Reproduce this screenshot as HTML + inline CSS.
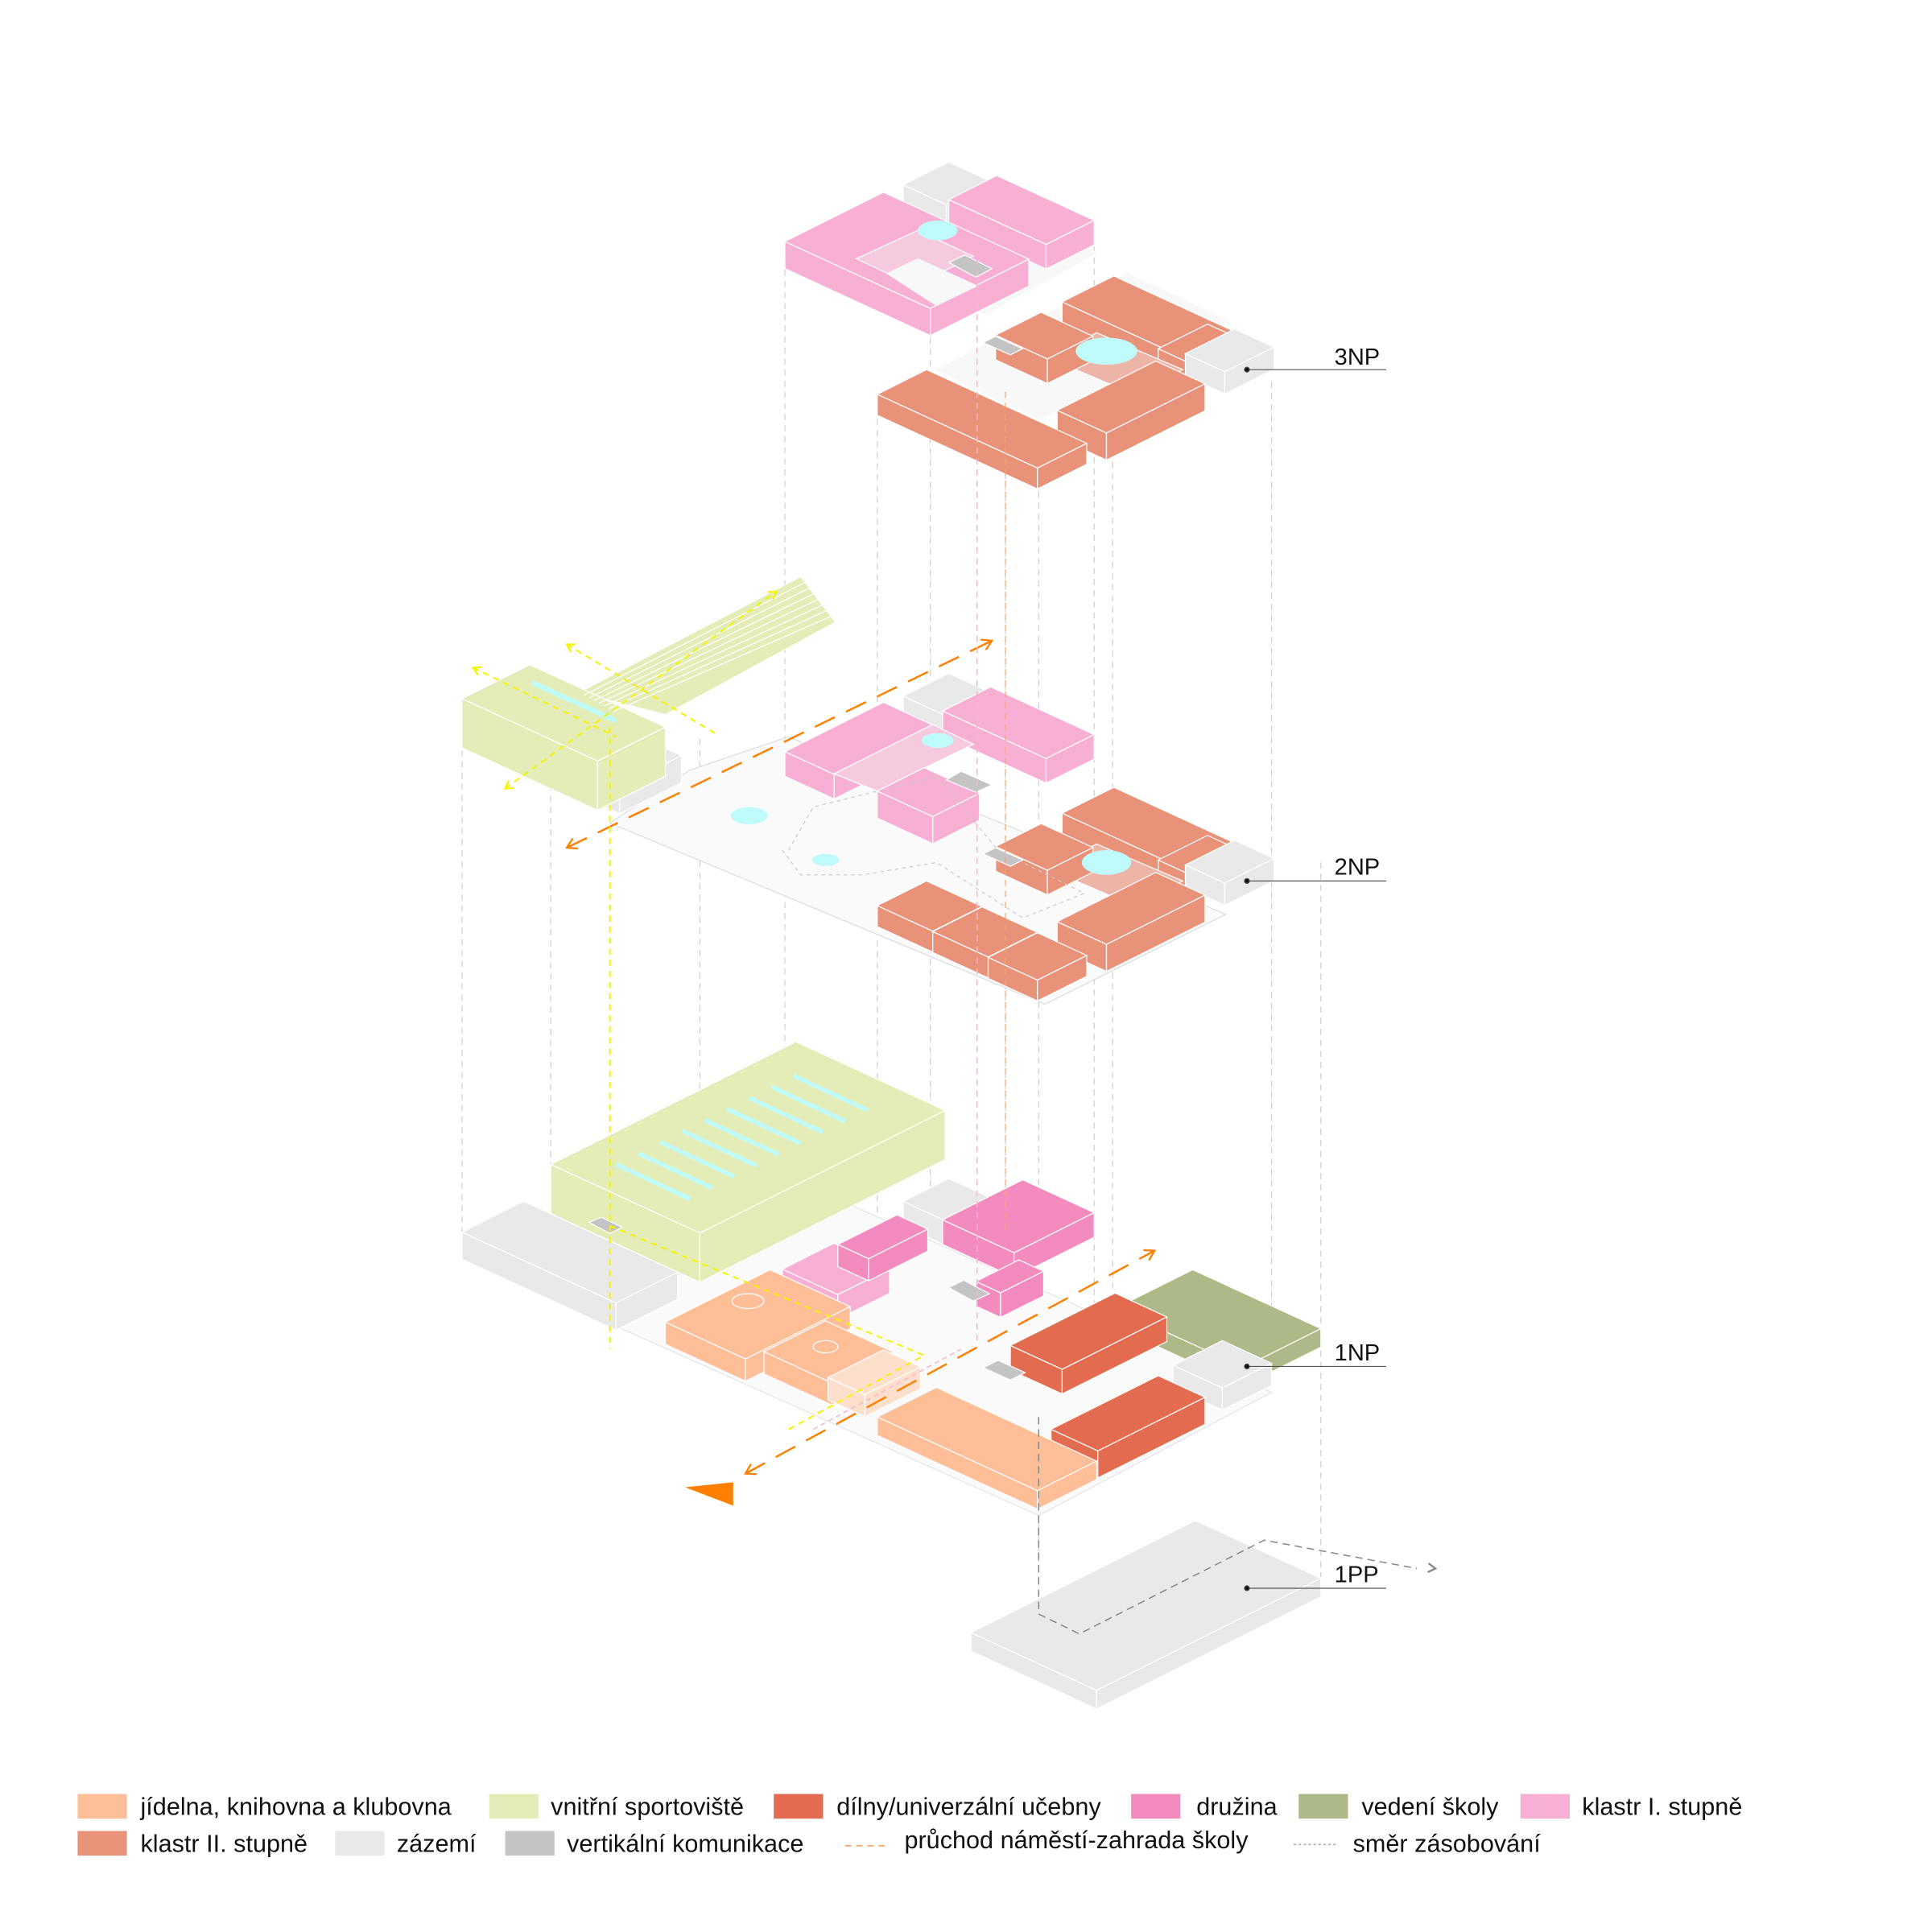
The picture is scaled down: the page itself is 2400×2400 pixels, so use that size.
<!DOCTYPE html>
<html><head><meta charset="utf-8"><style>
html,body{margin:0;padding:0;background:#fff}
svg{display:block}
text{font-family:"Liberation Sans",sans-serif;fill:#111}
</style></head><body>
<svg id="s" width="2400" height="2400" viewBox="0 0 1568 1568" xmlns="http://www.w3.org/2000/svg">
<g id="vl" stroke="#cfcfcf" stroke-width="0.8" stroke-dasharray="5,4" fill="none"></g>
<g id="g"></g>
<g id="ov" fill="none"></g>
<g font-size="19">
<text x="1083" y="296">3NP</text>
<text x="1083" y="710">2NP</text>
<text x="1083" y="1104">1NP</text>
<text x="1083" y="1284">1PP</text>
</g>
<g stroke="#555" stroke-width="0.8">
<line x1="1012" y1="300" x2="1125" y2="300"/><circle cx="1012" cy="300" r="2" fill="#111"/>
<line x1="1012" y1="715" x2="1125" y2="715"/><circle cx="1012" cy="715" r="2" fill="#111"/>
<line x1="1012" y1="1109" x2="1125" y2="1109"/><circle cx="1012" cy="1109" r="2" fill="#111"/>
<line x1="1012" y1="1289" x2="1125" y2="1289"/><circle cx="1012" cy="1289" r="2" fill="#111"/>
</g>
<g font-size="20">
<rect x="63" y="1456" width="40" height="20" fill="#fdbe98"/><text x="114" y="1473">jídelna, knihovna a klubovna</text>
<rect x="397" y="1456" width="40" height="20" fill="#e4edb8"/><text x="447" y="1473">vnitřní sportoviště</text>
<rect x="628" y="1456" width="40" height="20" fill="#e36b50"/><text x="679" y="1473">dílny/univerzální učebny</text>
<rect x="918" y="1456" width="40" height="20" fill="#f48bbf"/><text x="971" y="1473">družina</text>
<rect x="1054" y="1456" width="40" height="20" fill="#aeb988"/><text x="1105" y="1473">vedení školy</text>
<rect x="1234" y="1456" width="40" height="20" fill="#f7b0d4"/><text x="1284" y="1473">klastr I. stupně</text>
<rect x="63" y="1486" width="40" height="20" fill="#e8927a"/><text x="114" y="1503">klastr II. stupně</text>
<rect x="272" y="1486" width="40" height="20" fill="#e9e9e9"/><text x="322" y="1503">zázemí</text>
<rect x="410" y="1486" width="40" height="20" fill="#c4c4c4"/><text x="460" y="1503">vertikální komunikace</text>
<line x1="686" y1="1498" x2="720" y2="1498" stroke="#f5a66b" stroke-width="1.2" stroke-dasharray="5,4"/>
<text x="734" y="1500">průchod náměstí-zahrada školy</text>
<line x1="1050" y1="1497" x2="1084" y2="1497" stroke="#aaa" stroke-width="1" stroke-dasharray="2,2"/>
<text x="1098" y="1503">směr zásobování</text>
</g>
</svg>
<script>
var NS="http://www.w3.org/2000/svg",G=document.getElementById("g"),OV=document.getElementById("ov"),VL=document.getElementById("vl");
function el(par,tag,at){var e=document.createElementNS(NS,tag);for(var k in at)e.setAttribute(k,at[k]);par.appendChild(e);return e;}
function pts(a){return a.map(function(p){return p[0].toFixed(1)+","+p[1].toFixed(1)}).join(" ");}
function poly(a,f,st){el(G,"polygon",{points:pts(a),fill:f,stroke:st||"#fff","stroke-width":0.8});}
var ux=1,uy=0.46,vx=1,vy=-0.5;
function box(px,py,a,b,h,f,top){
 var P=[px,py],A=[px+a*ux,py+a*uy],C=[A[0]+b*vx,A[1]+b*vy],B=[px+b*vx,py+b*vy];
 poly([P,A,[A[0],A[1]+h],[P[0],P[1]+h]],f);
 poly([A,C,[C[0],C[1]+h],[A[0],A[1]+h]],f);
 poly([P,A,C,B],top||f);
}
function ell(cx,cy,rx,ry){el(G,"ellipse",{cx:cx,cy:cy,rx:rx,ry:ry,fill:"#c0fbfb"});}
function line(p,c,w,d){el(OV,"polyline",{points:pts(p),stroke:c,"stroke-width":w,"stroke-dasharray":d,fill:"none"});}
function arrowHead(x,y,ang,c,s){var a1=ang+2.6,a2=ang-2.6;line([[x+s*Math.cos(a1),y+s*Math.sin(a1)],[x,y],[x+s*Math.cos(a2),y+s*Math.sin(a2)]],c,1.5,"");}
[[375,600,1000],[447,610,960],[568,600,1000],[637,210,1020],[712,340,1150],[755,265,1130],[816,330,1150],[843,390,1310],[888,200,1190],[903,330,1150],[1032,310,1110],[1072,700,1280]].forEach(function(l){el(VL,"line",{x1:l[0],y1:l[1],x2:l[0],y2:l[2]});});
var PK="#f7b0d4",PL="#f5cadf",OR="#e8927a",OL="#edb5a8",GR="#e9e9e9",SL="#f8f8f8",SP="#e4edb8",PE="#fdbe98",RD="#e36b50",DR="#f48bbf",VE="#aeb988",VC="#c4c4c4";
// ===== 3NP
poly([[700,210],[800,255],[890,205],[790,150]],SL,SL);
poly([[760,300],[843,340],[1000,262],[915,222]],SL,SL);
box(733,150,35,37,20,GR);
box(770,162,79,39,20,PK);
box(637,196,118,80,22,PK);
poly([[695,210],[745,187],[790,208],[742,232]],PL);
poly([[720,222],[745,210],[793,232],[760,248]],SL,SL);
ell(761,187,16,8);
poly([[770,213],[783,207],[805,218],[792,225]],VC);
box(862,245,100,42,18,OR);
box(940,283,30,40,15,OR);
box(962,287,32,40,18,GR);
poly([[850,290],[890,270],[960,300],[920,320]],OL);
box(808,272,42,37,20,OR);
ell(898,285,25,11);
poly([[798,278],[808,273],[830,283],[820,288]],VC);
box(858,333,40,80,22,OR);
box(712,320,130,40,17,OR);
// ===== 2NP
poly([[495,668],[848,815],[995,742],[640,598],[560,625]],"#fafafa","#ddd");
box(733,565,35,37,20,GR);
box(765,577,84,39,20,PK);
box(637,610,40,80,20,PK);
poly([[677,628],[757,588],[790,604],[712,642]],PL);
box(712,642,45,38,22,PK);
ell(761,601,13,6);ell(608,662,15,7);ell(670,698,11,5);
poly([[768,633],[780,626],[805,637],[792,643]],VC);
box(862,660,100,42,18,OR);
box(940,698,30,40,15,OR);
box(962,702,32,40,18,GR);
poly([[850,705],[890,685],[960,715],[920,735]],OL);
box(808,687,42,37,20,OR);
ell(898,700,20,10);
poly([[798,693],[808,688],[830,698],[820,703]],VC);
box(858,748,40,80,22,OR);
box(712,735,45,40,17,OR);
box(757,756,45,40,17,OR);
box(802,777,40,40,17,OR);
poly([[470,562],[650,468],[678,505],[540,580]],SP);
for(var i=1;i<8;i++){line([[470+i*4,562+i*2.2],[650+i*3.5,468+i*4.6]],"#fff",0.8,"");}
box(485,630,18,50,22,GR);
box(375,567,110,55,40,SP);
line([[432,554],[500,585]],"#c0fbfb",4,"");
// ===== 1NP
poly([[497,1075],[843,1230],[1032,1130],[650,960]],"#fafafa","#e5e5e5");
box(375,1000,125,50,22,GR);
box(447,945,121,199,40,SP);
for(var i=0;i<9;i++){var x0=500+i*18,y0=945-i*9;line([[x0,y0],[x0+60,y0+28]],"#c0fbfb",3.5,"");}
poly([[478,992],[488,988],[505,996],[495,1001]],VC);
box(733,975,35,37,20,GR);
box(765,990,58,65,20,DR);
box(792,1040,20,35,20,DR);
box(635,1030,45,42,20,PK);
box(680,1010,25,48,18,DR);
poly([[770,1045],[782,1039],[803,1050],[790,1056]],VC);
box(540,1073,65,85,18,PE);
box(620,1097,55,50,18,PE);
box(672,1118,30,45,18,"#fde0cc");
ellipse=null;
el(G,"ellipse",{cx:607,cy:1056,rx:13,ry:6,fill:"none",stroke:"#fff","stroke-width":0.8});
el(G,"ellipse",{cx:670,cy:1093,rx:10,ry:5,fill:"none",stroke:"#fff","stroke-width":0.8});
box(905,1062,104,63,15,VE);
box(820,1092,42,85,20,RD);
box(952,1108,40,40,18,GR);
poly([[798,1110],[810,1104],[832,1114],[820,1120]],VC);
box(853,1160,38,87,22,RD);
box(712,1150,130,48,15,PE);
el(G,"polygon",{points:"556,1207 595,1203 595,1222",fill:"#ff7f00"});
// ===== 1PP
box(788,1325,102,182,15,GR);
line([[843,1150],[843,1310],[876,1326],[1026,1250],[1150,1273]],"#888",1,"6,4");arrowHead(1165,1273,0.1,"#888",7);
line([[460,688],[805,520]],"#ff7f00",1.6,"18,10");arrowHead(460,688,2.68,"#ff7f00",9);arrowHead(805,520,-0.45,"#ff7f00",9);
line([[605,1196],[937,1015]],"#ff7f00",1.6,"18,10");arrowHead(605,1196,2.64,"#ff7f00",9);arrowHead(937,1015,-0.5,"#ff7f00",9);
line([[495,590],[495,1095]],"#f4f400",1.3,"5,4");
line([[410,640],[630,480]],"#f4f400",1.3,"5,4");arrowHead(410,640,2.52,"#f4f400",7);arrowHead(630,480,-0.62,"#f4f400",7);
line([[384,542],[500,598]],"#f4f400",1.3,"5,4");arrowHead(384,542,-2.7,"#f4f400",7);
line([[460,523],[580,595]],"#f4f400",1.3,"5,4");arrowHead(460,523,-2.6,"#f4f400",7);
line([[495,995],[750,1100],[640,1160]],"#f4f400",1.3,"5,4");
line([[660,1160],[780,1095]],"#f7b6cf",1,"4,3");
line([[793,210],[793,1090]],"#f7b6cf",1,"5,4");
line([[816,318],[816,1000]],"#f5a66b",0.8,"5,4");
line([[640,690],[660,655],[760,630],[810,690],[880,725],[830,745],[760,700],[700,710],[650,710],[635,690]],"#ccc",0.8,"3,3");
</script>
</body></html>
